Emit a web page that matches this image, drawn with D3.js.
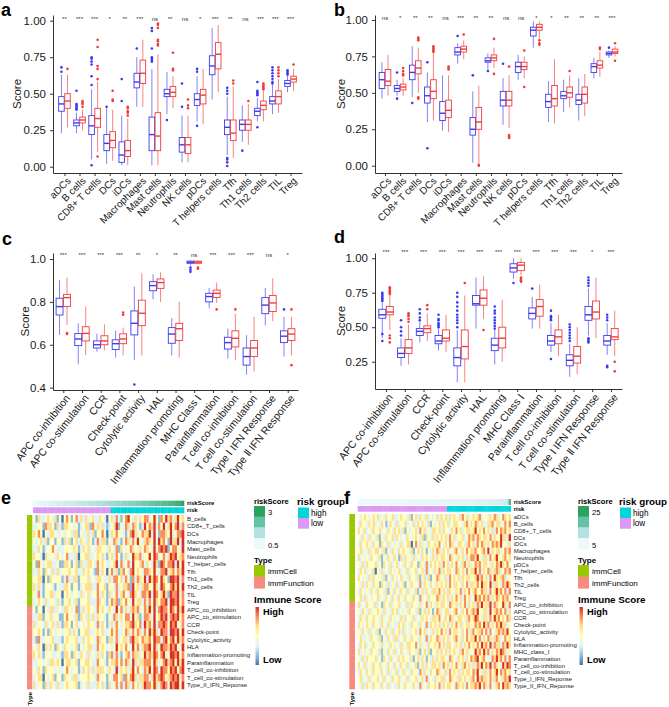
<!DOCTYPE html>
<html>
<head>
<meta charset="utf-8">
<script src="https://cdn.jsdelivr.net/npm/d3@7"></script>
<style>
  body { margin: 0; background: #fff; }
  svg { display: block; }
</style>
</head>
<body>
<svg id="fig" width="669" height="707"></svg>
<script>
// ---------- data: boxplots ----------
const cellCats = ["aDCs", "B cells", "CD8+ T cells", "DCs", "iDCs", "Macrophages", "Mast cells",
  "Neutrophils", "NK cells", "pDCs", "T helpers cells", "Tfh", "Th1 cells", "Th2 cells", "TIL", "Treg"];
const funcCats = ["APC co-inhibition", "APC co-stimulation", "CCR", "Check-point", "Cytolytic activity",
  "HAL", "Inflammation promoting", "MHC Class Ⅰ", "Parainflammation", "T cell co-inhibition",
  "T cell co-stimulation", "Type Ⅰ IFN Response", "Type Ⅱ IFN Response"];

// [whisker low, q1, median, q3, whisker high]
const lowA = [[0.23,0.38,0.43,0.48,0.63],[0.23,0.28,0.30,0.32,0.37],[0.05,0.22,0.28,0.35,0.53],[0.02,0.11,0.16,0.22,0.40],
  [0.01,0.03,0.08,0.17,0.35],[0.41,0.54,0.58,0.64,0.75],[0.01,0.11,0.22,0.34,0.67],[0.36,0.48,0.50,0.53,0.65],
  [0.03,0.10,0.15,0.20,0.35],[0.31,0.42,0.46,0.50,0.62],[0.46,0.63,0.69,0.76,0.95],[0.08,0.22,0.27,0.32,0.48],
  [0.17,0.25,0.29,0.32,0.42],[0.31,0.35,0.38,0.40,0.47],[0.36,0.43,0.45,0.48,0.56],[0.51,0.55,0.57,0.59,0.62]];
const outLowA = [[0.65,0.68],[0.39,0.40,0.41,0.42,0.43,0.52],[0.01,0.56,0.62,0.70,0.72,0.74,0.75],[0.41],[0.45,0.60],[0.81],
  [0.72,0.73,0.74,0.75,0.81,0.93,0.95],[0.32],[0.41,0.57],[0.28,0.65,0.67],[],[0.005,0.03,0.05,0.06,0.50,0.52,0.54],[0.11],
  [0.27,0.49,0.50,0.51,0.52,0.58],[0.57,0.58,0.60,0.62,0.64,0.66,0.68],[0.63,0.64,0.65,0.66]];
const highA = [[0.27,0.40,0.45,0.50,0.63],[0.25,0.30,0.32,0.34,0.39],[0.10,0.27,0.33,0.40,0.58],[0.04,0.13,0.18,0.24,0.39],
  [0.01,0.07,0.11,0.18,0.33],[0.41,0.57,0.64,0.73,0.87],[0.01,0.11,0.21,0.37,0.77],[0.40,0.48,0.51,0.55,0.62],
  [0.03,0.09,0.15,0.20,0.35],[0.29,0.43,0.49,0.53,0.67],[0.51,0.67,0.77,0.85,0.97],[0.06,0.18,0.23,0.32,0.55],
  [0.15,0.25,0.29,0.32,0.43],[0.31,0.39,0.42,0.45,0.52],[0.37,0.43,0.48,0.52,0.60],[0.52,0.58,0.60,0.62,0.67]];
const outHighA = [[0.67],[0.41,0.43,0.44,0.45],[0.07,0.60,0.67,0.69,0.82,0.87],[0.45,0.46,0.52],[0.35,0.37,0.38,0.40,0.41],[],
  [0.83,0.84,0.86,0.87,0.95,0.97,0.98],[0.66,0.67,0.78],[0.40,0.42,0.46],[],[],[0.57,0.59],[0.45],
  [0.53,0.54,0.55,0.56,0.57],[0.62,0.64,0.66,0.68],[0.70]];
const sigA = ["**","***","***","*","**","***","ns","**","ns","*","***","**","ns","***","***","***"];

const lowB = [[0.46,0.53,0.59,0.64,0.71],[0.48,0.51,0.53,0.55,0.59],[0.47,0.59,0.64,0.69,0.82],[0.30,0.43,0.48,0.54,0.64],
  [0.24,0.31,0.36,0.44,0.62],[0.70,0.76,0.78,0.81,0.84],[0.02,0.21,0.25,0.33,0.51],[0.66,0.71,0.72,0.74,0.77],
  [0.28,0.41,0.45,0.51,0.60],[0.59,0.64,0.68,0.71,0.76],[0.81,0.89,0.93,0.95,0.99],[0.30,0.40,0.44,0.49,0.58],
  [0.37,0.46,0.48,0.51,0.59],[0.31,0.42,0.45,0.49,0.60],[0.60,0.64,0.68,0.70,0.74],[0.74,0.76,0.77,0.78,0.79]];
const outLowB = [[],[0.46,0.64],[0.43],[0.12,0.71],[],[0.89],[0.62],[0.65],[0.70],[],[],[],[],[],[],[0.81]];
const highB = [[0.48,0.55,0.58,0.66,0.76],[0.48,0.52,0.54,0.56,0.60],[0.50,0.63,0.67,0.72,0.81],[0.31,0.46,0.51,0.59,0.77],
  [0.23,0.33,0.38,0.45,0.62],[0.73,0.78,0.80,0.82,0.86],[0.01,0.25,0.30,0.40,0.55],[0.67,0.72,0.74,0.76,0.81],
  [0.26,0.41,0.45,0.51,0.62],[0.60,0.66,0.68,0.71,0.75],[0.87,0.93,0.95,0.97,0.99],[0.29,0.41,0.46,0.55,0.73],
  [0.40,0.47,0.50,0.54,0.62],[0.34,0.43,0.49,0.54,0.63],[0.61,0.67,0.69,0.72,0.78],[0.75,0.77,0.78,0.80,0.82]];
const outHighB = [[],[0.62,0.63,0.65,0.67],[0.46,0.47,0.86,0.87,0.88],[0.78,0.79,0.80,0.81,0.82],[0.66,0.67,0.68],[0.90],
  [0.00,0.005],[0.63,0.87],[0.19,0.20,0.21,0.68],[0.54,0.79],[0.83,0.84,0.86],[],[0.65],[],[0.80,0.81],[0.72,0.84]];
const sigB = ["ns","*","**","**","ns","***","**","**","ns","ns","*","*","**","**","**","***"];

const lowC = [[0.646,0.739,0.778,0.817,0.902],[0.509,0.596,0.627,0.652,0.700],[0.568,0.585,0.600,0.618,0.652],
  [0.540,0.578,0.605,0.623,0.667],[0.530,0.646,0.700,0.758,0.871],[0.812,0.852,0.876,0.894,0.928],
  [0.550,0.607,0.650,0.680,0.725],[0.970,0.980,0.985,0.990,0.995],[0.770,0.800,0.825,0.840,0.865],
  [0.535,0.580,0.610,0.635,0.675],[0.460,0.505,0.545,0.585,0.645],[0.690,0.745,0.785,0.820,0.865],
  [0.545,0.610,0.640,0.665,0.730]];
const outLowC = [[],[],[],[],[0.415],[],[],[0.94,0.95,0.96],[],[],[],[],[0.765]];
const highC = [[0.692,0.778,0.820,0.835,0.913],[0.552,0.618,0.653,0.684,0.778],[0.574,0.600,0.618,0.642,0.695],
  [0.550,0.605,0.627,0.651,0.680],[0.550,0.689,0.747,0.808,0.933],[0.800,0.863,0.890,0.907,0.938],
  [0.540,0.620,0.675,0.700,0.800],[0.975,0.980,0.985,0.990,0.995],[0.795,0.820,0.840,0.855,0.890],
  [0.530,0.590,0.630,0.665,0.745],[0.475,0.545,0.585,0.620,0.730],[0.710,0.755,0.795,0.830,0.910],
  [0.550,0.620,0.650,0.675,0.730]];
const outHighC = [[0.65,0.655],[],[],[0.74,0.75],[],[],[],[0.955,0.96],[0.765],[0.765],[],[],[0.505,0.765]];
const sigC = ["***","***","***","***","**","*","**","ns","***","***","***","ns","*"];

const lowD = [[0.42,0.565,0.59,0.63,0.68],[0.22,0.28,0.31,0.35,0.42],[0.39,0.44,0.47,0.49,0.54],[0.33,0.38,0.40,0.44,0.49],
  [0.10,0.22,0.28,0.35,0.48],[0.49,0.66,0.67,0.73,0.86],[0.23,0.33,0.37,0.42,0.48],[0.85,0.90,0.93,0.96,1.00],
  [0.49,0.56,0.60,0.64,0.72],[0.32,0.37,0.40,0.44,0.53],[0.14,0.22,0.26,0.30,0.38],[0.44,0.55,0.59,0.65,0.78],
  [0.30,0.37,0.40,0.44,0.53]];
const outLowD = [[0.40,0.45,0.69,0.70,0.71,0.72,0.73,0.74,0.75],[0.44,0.47,0.50,0.55],[0.55,0.57,0.60,0.63],
  [0.50,0.51,0.52,0.53,0.55,0.56,0.59],[0.50,0.53,0.55,0.57,0.59,0.62,0.65,0.68,0.72,0.75],[],
  [0.49,0.51,0.53,0.55,0.57,0.60,0.62,0.65],[0.82],[0.78],[0.27,0.55,0.56,0.57,0.58,0.62],
  [0.40,0.42,0.44,0.46,0.48,0.50,0.52],[0.39,0.40,0.41,0.42,0.80,0.82,0.84,0.86],[0.21,0.22,0.55,0.57,0.59]];
const highD = [[0.48,0.59,0.61,0.65,0.73],[0.23,0.31,0.35,0.41,0.52],[0.40,0.46,0.49,0.51,0.60],[0.32,0.40,0.42,0.48,0.59],
  [0.10,0.27,0.36,0.48,0.73],[0.56,0.66,0.71,0.77,0.87],[0.25,0.35,0.42,0.50,0.70],[0.88,0.91,0.95,0.97,1.00],
  [0.49,0.58,0.65,0.70,0.81],[0.29,0.38,0.43,0.48,0.59],[0.16,0.24,0.29,0.36,0.50],[0.42,0.56,0.61,0.69,0.86],
  [0.29,0.41,0.43,0.49,0.62]];
const outHighD = [[0.39,0.42,0.44,0.74,0.75,0.76,0.77,0.78,0.79],[0.54,0.56,0.58,0.59,0.60],[0.63,0.66],[],[0.82],[0.48],[],
  [0.83,0.84,0.85,0.86],[],[],[],[],[0.18,0.25]];
const sigD = ["***","***","***","***","***","***","***","***","***","***","***","*","***"];

// ---------- data: heatmaps ----------
const rowsE = ["B_cells","CD8+_T_cells","DCs","Macrophages","Mast_cells","Neutrophils","T_helper_cells","Tfh","Th1_cells",
  "Th2_cells","TIL","Treg","APC_co_inhibition","APC_co_stimulation","CCR","Check-point","Cytolytic_activity","HLA",
  "Inflammation-promoting","Parainflammation","T_cell_co-inhibition","T_cell_co-stimulation","Type_II_IFN_Reponse"];
const typeE = rowsE.map((r, i) => i < 12 ? "immCell" : "immFunction");
const riskE = [0.35,0.42,0.48,0.53,0.57,0.61,0.65,0.69,0.72,0.76,0.8,0.83,0.87,0.91,0.94,0.98,1.02,1.05,1.09,1.13,1.16,
  1.2,1.24,1.27,1.31,1.35,1.38,1.42,1.46,1.5,1.53,1.57,1.61,
  1.65,1.69,1.73,1.77,1.81,1.85,1.9,1.94,1.98,2.02,2.07,2.11,2.15,2.2,2.24,2.29,2.33,2.38,2.43,2.48,2.53,2.58,2.63,
  2.69,2.75,2.81,2.88,2.95,3.05,3.2,3.45];
const cutE = 1.63;
// immune score level per cell, 0 = low (blue) ... 6 = high (red)
const cellsE = [
  "3142 2343 2413 0353 1352 4242 3422 4320 3425 2135 6324 2435 5236 3153 6452 4634",
  "2233 1544 3142 1443 3231 2344 1534 2421 2346 1325 4254 3126 3546 2536 2463 5625",
  "4353 0324 4322 3233 2441 3224 2413 3530 2435 3321 3564 2354 4626 3155 4362 3556",
  "3234 2413 3133 1424 1342 4324 3125 2441 3254 2135 4253 6324 5436 2645 3164 4626",
  "2243 1233 5322 2333 3431 2434 2324 4332 4325 1432 3543 2435 4326 3565 6135 5326",
  "4332 0423 3243 2352 2240 3344 2234 3421 3425 3124 2364 4523 3636 5235 2465 6345",
  "3153 2344 2231 1443 1341 4224 4325 3432 2346 2523 5263 3452 4326 4165 3556 2636",
  "2243 1432 4242 3334 3342 2434 3215 2430 3524 1453 2563 4325 5436 3255 6345 3546",
  "3344 0314 3333 1252 2441 3334 2324 4322 4255 3425 3152 5436 2646 5364 3166 5625",
  "4242 1333 2132 2443 1331 2344 4225 3341 3325 2344 5163 4245 5336 4265 3356 4636",
  "3252 1334 4233 0343 2332 4234 2335 2431 4235 2453 2564 3255 4626 5346 4165 5625",
  "2343 2423 3242 1334 3241 3334 2225 4321 3545 1435 3263 4425 2536 4355 6266 5635",
  "3133 0324 4223 2443 2351 2434 3325 3432 4326 3524 2454 5235 4636 2565 5365 3646",
  "2244 1334 2331 1353 3241 4324 2424 3321 3254 2435 5263 4125 5426 3465 6256 5635",
  "4233 2423 4242 1443 1342 3234 3325 2431 2425 3234 4564 3526 4536 2556 5365 6325",
  "3343 1314 3233 2334 2431 3344 2234 3422 3535 2235 4253 5425 3646 4265 5266 5636",
  "2152 2333 4222 1343 3342 2434 3325 4331 4425 2344 2564 4354 4536 5525 6356 3645",
  "3243 0424 3143 2433 2341 3234 4225 3432 3236 3435 3263 5245 5636 4265 5465 6326",
  "4342 1333 2232 1443 1432 4324 2324 2431 4525 2134 5254 4236 4546 5356 2366 5635",
  "2233 2324 4343 0344 3341 3344 3225 3321 3445 3525 4264 2445 5536 4235 6456 3646",
  "3243 1433 3232 2353 2331 2434 2424 4432 4326 2434 2463 5325 4636 5265 5365 6356",
  "2344 0323 4133 1433 2442 3334 3325 2331 3255 3415 3564 2445 5246 4565 3456 5625",
  "4233 1424 3242 2343 3341 2324 2224 3421 4235 2525 4253 4246 5536 4256 5265 6636"];

const rowsF = ["aDCs","B_cells","CD8+_T_cells","DCs","iDCs","Macrophages","Neutrophils","pDCs","T_helper_cells","Tfh",
  "Th2_cells","TIL","Treg","APC_co_inhibition","APC_co_stimulation","CCR","Check-point","Cytolytic_activity","HLA",
  "Inflammation-promoting","MHC_class_I","Parainflammation","T_cell_co-inhibition","T_cell_co-stimulation",
  "Type_I_IFN_Reponse","Type_II_IFN_Reponse"];
const typeF = rowsF.map((r, i) => i < 13 ? "immCell" : "immFunction");
const riskF = [0.62,0.7,0.75,0.8,0.84,0.88,0.92,0.95,0.99,1.02,1.05,1.09,1.12,1.15,1.19,1.22,1.25,1.29,1.32,1.36,1.39,
  1.42,1.46,1.5,1.53,1.57,1.6,1.64,1.68,1.71,1.75,1.79,1.83,1.87,1.91,1.95,2.0,2.04,2.08,2.13,2.18,2.23,
  2.28,2.33,2.39,2.44,2.5,2.56,2.62,2.68,2.75,2.82,2.89,2.96,3.04,3.12,3.2,3.29,3.38,3.48,3.58,3.7,3.82,3.95,4.1,
  4.3,4.55,4.9,5.4,6.2,7.5,21.5];
const cutF = 2.25;
const cellsF = [
  "323432 343423 243342 234332 413424 324232 342434 243432 453423 434523 324354 235434",
  "243324 342324 312432 423342 324243 432413 234243 423443 324534 354342 244534 423535",
  "432423 243342 324324 342413 233425 342324 434243 324353 423443 463435 342425 354534",
  "324324 232413 243342 432324 323432 414324 243434 253423 342354 535434 435243 364426",
  "243343 243314 324232 324234 403524 232433 435324 354234 432453 425354 243545 463324",
  "342324 234432 413243 243433 241342 431324 354243 423453 243534 453345 362434 423545",
  "423232 433241 324324 314243 324232 434324 243443 254324 342435 546324 425346 334534",
  "324243 334231 432423 423243 243314 325243 434253 424353 245342 354534 432435 464353",
  "243423 240324 232432 342324 233423 425232 435243 443254 342534 463524 354245 423545",
  "432324 243332 413243 234232 433241 342413 354324 253434 243443 346453 425364 345423",
  "324243 243314 324232 423413 243325 243243 243434 253443 243524 435364 436244 325464",
  "243232 432433 241324 324324 232413 424324 435342 443243 524353 453354 425346 453525",
  "342423 233423 243243 243243 324325 232433 354243 424353 425342 364535 452435 435453",
  "423243 324231 432423 342324 243324 235243 243443 254342 435243 425463 446254 336425",
  "324324 233432 423243 423232 433241 342431 354234 423453 243534 546334 426345 453524",
  "243243 343324 232432 324243 324232 434324 435324 354234 432453 465324 425364 534354",
  "432343 243324 324232 243423 243324 325243 434243 424353 423443 354536 452435 464423",
  "324324 232413 243242 342423 233425 342324 243534 253443 243524 534453 525324 545463",
  "342232 433241 324324 423243 243324 325243 354243 423453 243534 463524 354245 423534",
  "243423 243324 232432 324234 433524 232433 435342 443243 424353 435364 536254 425464",
  "423232 433241 324324 234232 433241 342413 342434 243432 453423 364536 452435 465423",
  "324243 334231 432423 243433 241342 431324 243443 254324 342435 456345 322546 453525",
  "432423 243342 324324 324324 232413 424324 434253 424353 245342 425463 546254 326465",
  "243243 243324 324232 423423 243325 243243 354324 253434 243443 546324 425346 354534",
  "342324 233432 423243 342324 233423 425232 423442 354324 434324 536454 435245 324546",
  "324243 243324 324232 243243 324325 232433 435243 443254 342534 454635 425324 536454"];

// ---------- styles ----------
const FONT = "'Liberation Sans', Arial, Helvetica, sans-serif";
const lowColor = "#3a3af2", highColor = "#f23a3a";
const heatColors = ["#4575b4", "#91bfdb", "#e0f3f8", "#ffffbf", "#fee090", "#fc8d59", "#d73027"];
const scoreColors = ["#edf8fb", "#b2e2e2", "#66c2a4", "#2ca25f"];
const groupColor = d3.scaleOrdinal().domain(["high", "low"]).range(["#00d5dc", "#dc99f3"]);
const typeColor = d3.scaleOrdinal().domain(["immCell", "immFunction"]).range(["#99c800", "#f98a80"]);
const heatColor = d3.scaleOrdinal().domain(d3.range(7)).range(heatColors);

const svg = d3.select("#fig").attr("font-family", FONT);

const defs = svg.append("defs");
const grad = defs.append("linearGradient").attr("id", "immGrad")
  .attr("x1", 0).attr("x2", 0).attr("y1", 0).attr("y2", 1);
heatColors.slice().reverse().forEach((c, i) =>
  grad.append("stop").attr("offset", i / (heatColors.length - 1)).attr("stop-color", c));

// ---------- box panels ----------
function boxPanel(p, L) {
  const g = svg.append("g");
  const y = d3.scaleLinear().domain(L.domain).range([L.bottom, L.top]);
  const x = d3.scalePoint().domain(p.cats).range([L.left, L.right]).padding(L.pad);
  const s = x.step(), w = 0.37 * s;

  const yAxis = g.append("g").attr("transform", `translate(${L.left},0)`)
    .call(d3.axisLeft(y).tickValues(L.ticks).tickFormat(d3.format(L.fmt)).tickSize(3).tickPadding(4).tickSizeOuter(0));
  const xAxis = g.append("g").attr("transform", `translate(0,${L.bottom})`)
    .call(d3.axisBottom(x).tickSize(3).tickSizeOuter(0));
  [yAxis, xAxis].forEach(a => {
    a.attr("font-family", FONT);
    a.select(".domain").attr("stroke", "#333").attr("stroke-width", 1);
    a.selectAll(".tick line").attr("stroke", "#333");
    a.selectAll("text").attr("fill", "#1a1a1a");
  });
  yAxis.attr("font-size", 11.5);
  xAxis.attr("font-size", L.labelSize).selectAll("text")
    .attr("x", 0).attr("y", 0).attr("dy", "0.35em").attr("text-anchor", "end")
    .attr("transform", `translate(${L.lx},${L.ly}) rotate(${-L.angle})`);

  const groups = [
    { box: p.low, out: p.outLow, color: lowColor, side: -1 },
    { box: p.high, out: p.outHigh, color: highColor, side: 1 }];
  groups.forEach(grp => {
    const items = grp.box.map((b, i) => ({ b, out: grp.out[i], cx: x(p.cats[i]) + grp.side * 0.2 * s }));
    const it = g.append("g").attr("stroke", grp.color).attr("fill", "white")
      .selectAll("g").data(items).join("g");
    it.append("line").attr("x1", d => d.cx).attr("x2", d => d.cx)
      .attr("y1", d => y(d.b[0])).attr("y2", d => y(d.b[1])).attr("stroke-width", 0.8).attr("stroke-opacity", 0.8);
    it.append("line").attr("x1", d => d.cx).attr("x2", d => d.cx)
      .attr("y1", d => y(d.b[3])).attr("y2", d => y(d.b[4])).attr("stroke-width", 0.8).attr("stroke-opacity", 0.8);
    it.append("rect").attr("x", d => d.cx - w / 2).attr("y", d => y(d.b[3]))
      .attr("width", w).attr("height", d => Math.max(0.5, y(d.b[1]) - y(d.b[3]))).attr("stroke-width", 0.9);
    it.append("line").attr("x1", d => d.cx - w / 2).attr("x2", d => d.cx + w / 2)
      .attr("y1", d => y(d.b[2])).attr("y2", d => y(d.b[2])).attr("stroke-width", 1.4);
    it.selectAll("circle").data(d => d.out.map(v => ({ v, cx: d.cx }))).join("circle")
      .attr("cx", d => d.cx).attr("cy", d => y(d.v)).attr("r", 1.3)
      .attr("fill", grp.color).attr("stroke", "none");
  });

  g.append("g").selectAll("text").data(p.sig).join("text")
    .attr("x", (d, i) => x(p.cats[i])).attr("y", L.sigY).attr("text-anchor", "middle")
    .attr("font-size", 6).attr("fill", "#333").text(d => d);

  g.append("text").attr("transform", `translate(${L.scoreX},${(L.top + L.bottom) / 2}) rotate(-90)`)
    .attr("text-anchor", "middle").attr("dy", "0.35em").attr("font-size", 11.5).attr("fill", "#1a1a1a").text("Score");

  g.append("text").attr("x", L.tagX).attr("y", L.tagY).attr("font-size", 18).attr("font-weight", "bold").text(L.tag);
}

boxPanel({ cats: cellCats, low: lowA, outLow: outLowA, high: highA, outHigh: outHighA, sig: sigA },
  { left: 53, right: 302, top: 15, bottom: 173, domain: [-0.043, 1.039], ticks: [0, 0.25, 0.5, 0.75, 1], fmt: ".2f",
    pad: 0.76, sigY: 21, scoreX: 17, angle: 45, labelSize: 10, lx: 4, ly: 6, tag: "a", tagX: 1, tagY: 16 });
boxPanel({ cats: cellCats, low: lowB, outLow: outLowB, high: highB, outHigh: outHighB, sig: sigB },
  { left: 375, right: 622, top: 15, bottom: 173, domain: [-0.05, 1.034], ticks: [0, 0.25, 0.5, 0.75, 1], fmt: ".2f",
    pad: 0.66, sigY: 20, scoreX: 341, angle: 45, labelSize: 10, lx: 4, ly: 6, tag: "b", tagX: 334, tagY: 16 });
boxPanel({ cats: funcCats, low: lowC, outLow: outLowC, high: highC, outHigh: outHighC, sig: sigC },
  { left: 53, right: 298, top: 253, bottom: 390, domain: [0.389, 1.028], ticks: [0.4, 0.6, 0.8, 1.0], fmt: ".1f",
    pad: 0.55, sigY: 257, scoreX: 25, angle: 52, labelSize: 10.5, lx: 4, ly: 6, tag: "c", tagX: 2, tagY: 245 });
boxPanel({ cats: funcCats, low: lowD, outLow: outLowD, high: highD, outHigh: outHighD, sig: sigD },
  { left: 375, right: 622, top: 253, bottom: 389, domain: [0.052, 1.038], ticks: [0.25, 0.5, 0.75, 1.0], fmt: ".2f",
    pad: 0.59, sigY: 254, scoreX: 341, angle: 52, labelSize: 10.5, lx: 4, ly: 6, tag: "d", tagX: 334, tagY: 243 });

// ---------- heatmap panels ----------
function heatPanel(h, L) {
  const g = svg.append("g");
  const n = h.score.length;
  const x = d3.scaleBand().domain(d3.range(n)).range([L.x0, L.x1]);
  const y = d3.scaleBand().domain(h.rows).range([L.y0, L.y1]);
  const vals = h.cells.map(s => s.replace(/ /g, "").split("").map(Number));
  const cw = x.bandwidth() + 0.3, ch = y.bandwidth() + 0.3;
  const scoreColor = d3.scaleLinear().domain(h.scoreDomain).range(scoreColors).clamp(true);

  g.append("g").selectAll("g").data(vals).join("g")
    .attr("transform", (d, i) => `translate(0,${y(h.rows[i])})`)
    .selectAll("rect").data(d => d).join("rect")
    .attr("x", (d, j) => x(j)).attr("width", cw).attr("height", ch).attr("fill", d => heatColor(d));

  g.append("g").selectAll("rect").data(h.score).join("rect")
    .attr("x", (d, j) => x(j)).attr("y", L.sy0).attr("width", cw).attr("height", L.sy1 - L.sy0)
    .attr("fill", d => scoreColor(d));
  g.append("g").selectAll("rect").data(h.score).join("rect")
    .attr("x", (d, j) => x(j)).attr("y", L.ry0).attr("width", cw).attr("height", L.ry1 - L.ry0)
    .attr("fill", d => groupColor(d > h.cut ? "high" : "low"));
  g.append("g").selectAll("rect").data(h.type).join("rect")
    .attr("x", L.tx0).attr("y", (d, i) => y(h.rows[i])).attr("width", L.tx1 - L.tx0).attr("height", ch)
    .attr("fill", d => typeColor(d));

  g.append("g").attr("font-size", 6).attr("fill", "#222").selectAll("text").data(h.rows).join("text")
    .attr("x", L.x1 + 3).attr("y", d => y(d) + y.bandwidth() / 2).attr("dy", "0.35em").text(d => d);
  g.append("text").attr("x", L.x1 + 3).attr("y", (L.sy0 + L.sy1) / 2).attr("dy", "0.35em")
    .attr("font-size", 6).attr("font-weight", "bold").text("riskScore");
  g.append("text").attr("x", L.x1 + 3).attr("y", (L.ry0 + L.ry1) / 2).attr("dy", "0.35em")
    .attr("font-size", 6).attr("font-weight", "bold").text("risk");
  g.append("text").attr("transform", `translate(${(L.tx0 + L.tx1) / 2},${L.y1 + 3}) rotate(-90)`)
    .attr("text-anchor", "end").attr("dy", "0.35em").attr("font-size", 6).attr("font-weight", "bold").text("Type");

  // legends
  const lg = g.append("g");
  lg.append("text").attr("x", L.lx).attr("y", 504).attr("font-size", 7.6).attr("font-weight", "bold").text("riskScore");
  const blockH = (549 - 506) / scoreColors.length;
  lg.selectAll("rect.sc").data(scoreColors.slice().reverse()).join("rect").attr("class", "sc")
    .attr("x", L.lx).attr("y", (d, i) => 506 + i * blockH).attr("width", 11).attr("height", blockH + 0.2)
    .attr("fill", d => d);
  lg.append("text").attr("x", L.lx + 14).attr("y", 512).attr("dy", "0.35em").attr("font-size", 7.6).text(h.legendTop);
  lg.append("text").attr("x", L.lx + 14).attr("y", 545).attr("dy", "0.35em").attr("font-size", 7.6).text(h.legendBottom);

  lg.append("text").attr("x", L.gx).attr("y", 505).attr("font-size", 9.8).attr("font-weight", "bold").text("risk group");
  ["high", "low"].forEach((k, i) => {
    lg.append("rect").attr("x", L.gx + 1).attr("y", 507.5 + i * 10.5).attr("width", 11).attr("height", 10.7).attr("fill", groupColor(k));
    lg.append("text").attr("x", L.gx + 14).attr("y", 513 + i * 10.5).attr("dy", "0.35em").attr("font-size", 8.2).text(k);
  });

  lg.append("text").attr("x", L.lx).attr("y", 563).attr("font-size", 8).attr("font-weight", "bold").text("Type");
  ["immCell", "immFunction"].forEach((k, i) => {
    lg.append("rect").attr("x", L.lx).attr("y", 565 + i * 11.7).attr("width", 11).attr("height", 11.9).attr("fill", typeColor(k));
    lg.append("text").attr("x", L.lx + 14).attr("y", 571 + i * 11.7).attr("dy", "0.35em").attr("font-size", 8).text(k);
  });

  lg.append("text").attr("x", L.lx).attr("y", 603).attr("font-size", 9.8).attr("font-weight", "bold").text("Immune Score");
  lg.append("rect").attr("x", L.lx + 1.5).attr("y", 607).attr("width", 3.5).attr("height", 58).attr("fill", "url(#immGrad)");
  lg.append("text").attr("x", L.lx + 9).attr("y", 612).attr("dy", "0.35em").attr("font-size", 9.3).attr("font-weight", "bold").text("High");
  lg.append("text").attr("x", L.lx + 9).attr("y", 660).attr("dy", "0.35em").attr("font-size", 9.3).attr("font-weight", "bold").text("Low");

  g.append("text").attr("x", L.tagX).attr("y", 504).attr("font-size", 18).attr("font-weight", "bold").text(L.tag);
}

heatPanel({ rows: rowsE, type: typeE, score: riskE, cut: cutE, cells: cellsE, scoreDomain: [0.4, 1.4, 2.4, 3.4],
    legendTop: "3", legendBottom: "0.5" },
  { x0: 33, x1: 184, y0: 515, y1: 689, sy0: 500.7, sy1: 506, ry0: 507.3, ry1: 513.3, tx0: 27, tx1: 32.3,
    lx: 254, gx: 297, tag: "e", tagX: 1 });
heatPanel({ rows: rowsF, type: typeF, score: riskF, cut: cutF, cells: cellsF, scoreDomain: [1, 9.7, 18.3, 27],
    legendTop: "25", legendBottom: "5" },
  { x0: 357.7, x1: 510.7, y0: 514, y1: 689, sy0: 499, sy1: 505, ry0: 506, ry1: 511.7, tx0: 349.3, tx1: 355,
    lx: 578, gx: 619, tag: "f", tagX: 344 });
</script>
</body>
</html>
